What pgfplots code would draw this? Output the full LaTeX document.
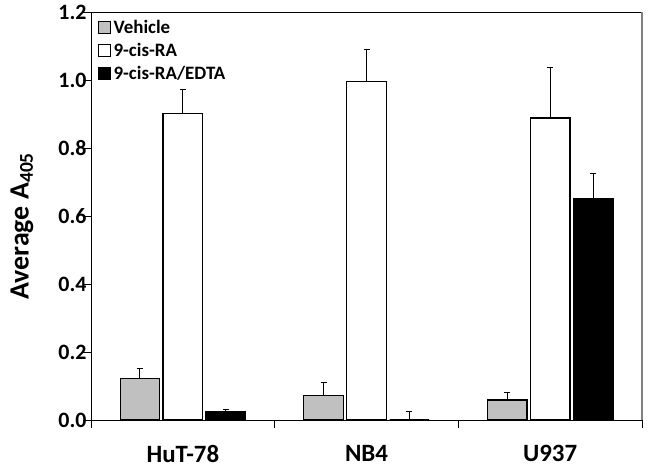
\documentclass[border=0pt]{standalone}
\usepackage{pgfplots}
\pgfplotsset{compat=1.18}
\usepackage{fontspec}
\setmainfont{Carlito}
\begin{document}
\begin{tikzpicture}
\begin{axis}[
  scale only axis, width=551bp, height=408bp,
  xmin=-0.5, xmax=2.5, ymin=0, ymax=1.2,
  axis line style={black, line width=0.8bp},
  ytick={0,0.2,0.4,0.6,0.8,1.0,1.2},
  yticklabel style={/pgf/number format/fixed, /pgf/number format/fixed zerofill, /pgf/number format/precision=1, xshift=7bp},
  /pgf/number format/assume math mode=true,
  tick label style={font=\fontsize{22}{24}\selectfont\bfseries},
  tick align=outside, major tick length=8bp,
  tick style={black, line width=0.8bp},
  ytick pos=left, xtick pos=bottom,
  xtick={-0.5,0.5,1.5,2.5}, xticklabels={},
  extra x ticks={0,1,2}, extra x tick labels={HuT-78,NB4,U937},
  extra x tick style={major tick length=0bp, xticklabel style={font=\fontsize{25}{27}\selectfont\bfseries, yshift=-22bp}},
  ylabel={Average A\textsubscript{405}},
  ylabel style={font=\fontsize{28}{30}\selectfont\bfseries, at={(axis description cs:0,0.5)}, anchor=center, yshift=69bp, xshift=-10bp},
  legend style={at={(0.012,0.985)}, anchor=north west, draw=none, fill=none,
    font=\fontsize{19}{21}\selectfont\bfseries, row sep=4bp, inner sep=0bp,
    nodes={inner xsep=3bp}},
  legend cell align=left,
  ybar=3.5bp, bar width=0.215,
  every axis plot/.append style={line width=1.2bp, draw=black,
    legend image code/.code={\draw[##1, line width=0.8bp] (0bp,-6bp) rectangle (12bp,6bp);}},
  error bars/y dir=plus, error bars/y explicit,
  error bars/error bar style={black, line width=1.2bp},
  error bars/error mark options={black, line width=1.2bp, mark size=3bp, rotate=90},
]
\addplot[fill={rgb,255:red,192;green,192;blue,192}]
  coordinates {(0,0.1215) +- (0,0.030) (1,0.072) +- (0,0.038) (2,0.059) +- (0,0.021)};
\addplot[fill=white]
  coordinates {(0,0.901) +- (0,0.072) (1,0.995) +- (0,0.095) (2,0.888) +- (0,0.149)};
\addplot[fill=black]
  coordinates {(0,0.026) +- (0,0.005) (1,0.0) +- (0,0.026) (2,0.652) +- (0,0.072)};
\legend{Vehicle,9-cis-RA,9-cis-RA/EDTA}
\end{axis}
\draw[gray, line width=1.2bp] (current axis.south east) -- (current axis.north east);
\pgfresetboundingbox
\path ([shift={(-91bp,-48bp)}]current axis.south west) rectangle ([shift={(7bp,12bp)}]current axis.north east);
\end{tikzpicture}
\end{document}
